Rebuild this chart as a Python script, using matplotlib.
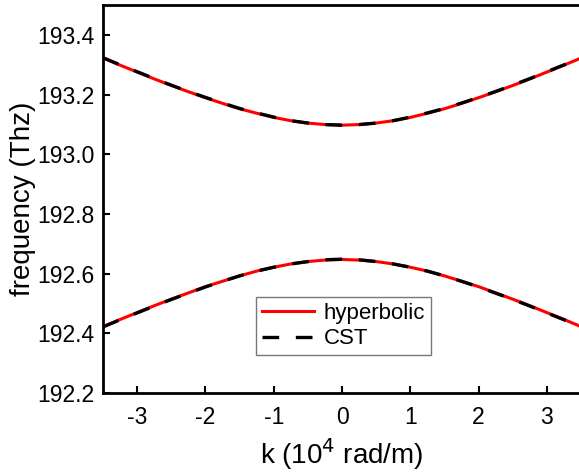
import matplotlib.pyplot as plt

plt.rcParams['font.family'] = ['Liberation Sans', 'DejaVu Sans']

# wave number (10^4 rad/m)
k = [-3.5, -3.25, -3.0, -2.75, -2.5, -2.25, -2.0, -1.75, -1.5, -1.25, -1.0, -0.75, -0.5, -0.25,
     0.0, 0.25, 0.5, 0.75, 1.0, 1.25, 1.5, 1.75, 2.0, 2.25, 2.5, 2.75, 3.0, 3.25, 3.5]

# hyperbolic model, upper and lower branch (THz)
hyp_upper = [193.323, 193.299, 193.276, 193.253, 193.231, 193.210, 193.190, 193.171, 193.153, 193.138,
             193.124, 193.113, 193.105, 193.100, 193.098, 193.100, 193.105, 193.113, 193.124, 193.138,
             193.153, 193.171, 193.190, 193.210, 193.231, 193.253, 193.276, 193.299, 193.323]
hyp_lower = [192.423, 192.447, 192.470, 192.493, 192.515, 192.536, 192.557, 192.575, 192.593, 192.609,
             192.622, 192.633, 192.641, 192.646, 192.648, 192.646, 192.641, 192.633, 192.622, 192.609,
             192.593, 192.575, 192.557, 192.536, 192.515, 192.493, 192.470, 192.447, 192.423]

# CST simulation (THz)
cst_upper = [193.324, 193.300, 193.277, 193.254, 193.232, 193.211, 193.191, 193.172, 193.154, 193.139,
             193.125, 193.113, 193.105, 193.100, 193.098, 193.100, 193.105, 193.113, 193.125, 193.139,
             193.154, 193.172, 193.191, 193.211, 193.232, 193.254, 193.277, 193.300, 193.324]
cst_lower = [192.422, 192.446, 192.469, 192.492, 192.514, 192.535, 192.556, 192.575, 192.593, 192.609,
             192.622, 192.633, 192.641, 192.647, 192.649, 192.647, 192.641, 192.633, 192.622, 192.609,
             192.593, 192.575, 192.556, 192.535, 192.514, 192.492, 192.469, 192.446, 192.422]

xticks = [-3, -2, -1, 0, 1, 2, 3]
yticks = [192.2, 192.4, 192.6, 192.8, 193.0, 193.2, 193.4]

fig = plt.figure(figsize=(5.79, 4.72), dpi=100)
ax = fig.add_axes([0.178, 0.167, 0.8255, 0.822])

ax.plot(k, hyp_upper, color='red', lw=2.2, label='hyperbolic')
ax.plot(k, hyp_lower, color='red', lw=2.2)
ax.plot(k, cst_upper, color='black', lw=2.4, ls=(0, (5, 5)), label='CST')
ax.plot(k, cst_lower, color='black', lw=2.4, ls=(0, (5, 5)))

ax.set_xlim(-3.5, 3.5)
ax.set_ylim(192.2, 193.5)
ax.set_xticks(xticks)
ax.set_xticklabels([str(t) for t in xticks])
ax.set_yticks(yticks)
ax.set_yticklabels([f'{t:.1f}' for t in yticks])

ax.tick_params(direction='in', length=5, width=1.5, labelsize=16.5)
ax.tick_params(axis='x', pad=9)
ax.tick_params(axis='y', pad=6)
for s in ax.spines.values():
    s.set_linewidth(2)

ax.set_xlabel('k (10$^{4}$ rad/m)', fontsize=20, labelpad=5)
ax.set_ylabel('frequency (Thz)', fontsize=20, labelpad=1)

leg = ax.legend(loc='upper left', bbox_to_anchor=(0.32, 0.247), borderaxespad=0, fontsize=16,
                frameon=True, fancybox=False, edgecolor='#555555', handlelength=2.35,
                borderpad=0.25, labelspacing=0.2, handletextpad=0.45)
leg.get_frame().set_linewidth(1)

fig.savefig('out.png', dpi=100)
